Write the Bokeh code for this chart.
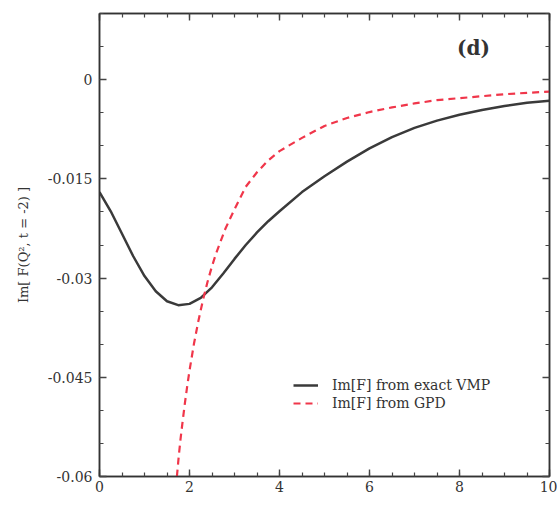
from bokeh.plotting import figure
from bokeh.models import LinearAxis, Range1d, Label, Legend, LegendItem, FixedTicker
from bokeh.embed import file_html
from bokeh.resources import INLINE

# Data
q_vmp = [0, 0.25, 0.5, 0.75, 1.0, 1.25, 1.5, 1.75, 2.0, 2.25, 2.5, 2.75, 3.0, 3.25,
         3.5, 3.75, 4.0, 4.5, 5.0, 5.5, 6.0, 6.5, 7.0, 7.5, 8.0, 8.5, 9.0, 9.5, 10.0]
f_vmp = [-0.0170, -0.0199, -0.0233, -0.0267, -0.0297, -0.0320, -0.0335, -0.0341,
         -0.0339, -0.0330, -0.0314, -0.0293, -0.0271, -0.0250, -0.0231, -0.0214,
         -0.0199, -0.0170, -0.0146, -0.0124, -0.0104, -0.0087, -0.0073, -0.0062,
         -0.0053, -0.0046, -0.0040, -0.0035, -0.0032]
q_gpd = [1.72, 1.76, 1.8, 1.85, 1.9, 1.95, 2.0, 2.1, 2.2, 2.3, 2.4, 2.5, 2.6, 2.8,
         3.0, 3.25, 3.5, 3.75, 4.0, 4.5, 5.0, 5.5, 6.0, 6.5, 7.0, 7.5, 8.0, 8.5,
         9.0, 9.5, 10.0]
f_gpd = [-0.0600, -0.0570, -0.0544, -0.0515, -0.0488, -0.0463, -0.0440, -0.0399,
         -0.0364, -0.0333, -0.0306, -0.0282, -0.0261, -0.0225, -0.0196, -0.0162,
         -0.0140, -0.0122, -0.0108, -0.0088, -0.0070, -0.0058, -0.0049, -0.0042,
         -0.0036, -0.0031, -0.0028, -0.0025, -0.0022, -0.0020, -0.0018]
x_ticks = [0, 2, 4, 6, 8, 10]
y_ticks = [0, -0.015, -0.03, -0.045, -0.06]
y_tick_labels = {0: "0", -0.015: "-0.015", -0.03: "-0.03", -0.045: "-0.045", -0.06: "-0.06"}
x_minor = [i * 0.5 for i in range(21)]
y_minor = [round(0.01 - i * 0.005, 3) for i in range(15)]

SERIF = "DejaVu Serif"
AX = "#333333"
X0, X1, Y0, Y1 = 0, 10, -0.06, 0.01

p = figure(width=557, height=522, output_backend="svg", toolbar_location=None,
           x_range=Range1d(X0, X1), y_range=Range1d(Y0, Y1),
           min_border_left=99, min_border_right=8, min_border_top=13,
           min_border_bottom=46, x_axis_location=None, y_axis_location=None)
p.grid.visible = False
p.outline_line_color = AX
p.outline_line_width = 1.5
p.background_fill_color = "white"
p.border_fill_color = "white"

def style(ax, labels=True):
    ax.axis_line_color = AX
    ax.axis_line_width = 1.5
    ax.major_tick_in = 7
    ax.major_tick_out = 0
    ax.minor_tick_in = 4
    ax.minor_tick_out = 0
    ax.major_tick_line_color = "#444444"
    ax.minor_tick_line_color = "#444444"
    ax.major_tick_line_width = 1.4
    ax.minor_tick_line_width = 1.2
    ax.major_label_text_font = SERIF
    ax.major_label_text_font_size = "14px"
    ax.major_label_text_color = "#333333"
    if not labels:
        ax.major_label_text_alpha = 0
        ax.major_label_text_font_size = "1px"
        ax.major_label_standoff = 0

xb = LinearAxis(ticker=FixedTicker(ticks=x_ticks, minor_ticks=x_minor))
style(xb)
xb.major_label_standoff = 4
p.add_layout(xb, "below")
xt = LinearAxis(ticker=FixedTicker(ticks=x_ticks, minor_ticks=x_minor))
style(xt, labels=False)
p.add_layout(xt, "above")
yl = LinearAxis(ticker=FixedTicker(ticks=y_ticks, minor_ticks=y_minor))
style(yl)
yl.major_label_overrides = y_tick_labels
yl.major_label_standoff = 7
yl.axis_label = "Im[ F(Q², t = -2) ]"
yl.axis_label_text_font = SERIF
yl.axis_label_text_font_style = "normal"
yl.axis_label_text_font_size = "13px"
yl.axis_label_text_color = "#333333"
yl.axis_label_standoff = 14
p.add_layout(yl, "left")
yr = LinearAxis(ticker=FixedTicker(ticks=y_ticks, minor_ticks=y_minor))
style(yr, labels=False)
p.add_layout(yr, "right")

r1 = p.line(q_vmp, f_vmp, line_color="#3a3a3a", line_width=2.5)
r2 = p.line(q_gpd, f_gpd, line_color="#f0364a", line_width=2.2, line_dash="7 5")

legend = Legend(items=[LegendItem(label="Im[F] from exact VMP", renderers=[r1]),
                       LegendItem(label="Im[F] from GPD", renderers=[r2])],
                location=(190, 61), background_fill_alpha=0, border_line_alpha=0,
                label_text_font=SERIF, label_text_font_size="14px",
                label_text_color="#333333", glyph_width=25, glyph_height=14,
                spacing=2, padding=4, label_standoff=14, label_height=16)
p.add_layout(legend, "center")

p.add_layout(Label(x=8.31, y=0.0048, text="(d)", text_font=SERIF, text_font_size="20px",
                   text_font_style="bold", text_color="#333333", text_align="center",
                   text_baseline="middle"))
p.add_layout(Label(x=4.5, y=-0.0650, text="Q² [GeV²]", text_font=SERIF,
                   text_font_size="13px", text_color="#333333", text_align="center",
                   text_baseline="middle"))
p.add_layout(Label(x=4.5, y=0.0112, text="Q² [GeV²]", text_font=SERIF,
                   text_font_size="12px", text_color="#333333", text_align="center",
                   text_baseline="middle"))

open("out.html", "w").write(file_html(p, INLINE))
